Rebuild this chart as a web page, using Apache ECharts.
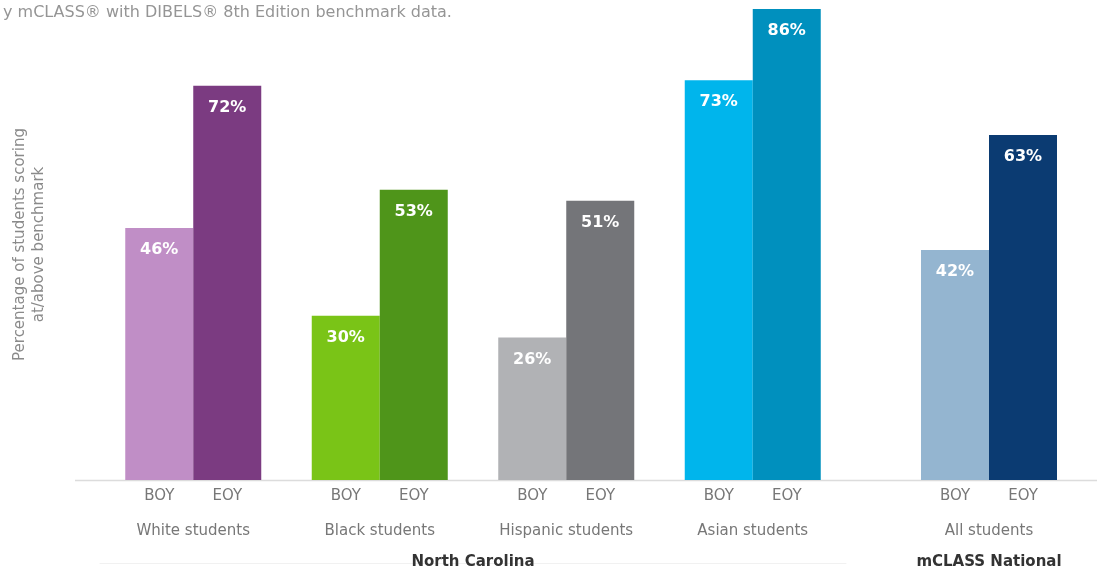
<!DOCTYPE html>
<html>
<head>
<meta charset="utf-8">
<script src="https://cdn.jsdelivr.net/npm/echarts@6/dist/echarts.min.js"></script>
<style>
html,body{margin:0;padding:0;background:#fff;}
#chart{width:1097px;height:572px;}
</style>
</head>
<body>
<div id="chart"></div>
<script>
// ---- data ----
const ncGroups = ['White students', 'Black students', 'Hispanic students', 'Asian students'];
const ncBoy = [46, 30, 26, 73];
const ncEoy = [72, 53, 51, 86];
const natGroups = ['All students'];
const natBoy = [42];
const natEoy = [63];
const ncBoyColors = ['#c08ec6', '#7ac417', '#b1b2b5', '#00b5ec'];
const ncEoyColors = ['#7b3b81', '#4f951a', '#747579', '#0090be'];
const natBoyColors = ['#94b5d0'];
const natEoyColors = ['#0b3b72'];
const regionNC = ['North Carolina'];
const regionNat = ['mCLASS National'];
const periods = ['BOY', 'EOY'];
const subtitle = 'y mCLASS\u00ae with DIBELS\u00ae 8th Edition benchmark data.';
const yName = 'Percentage of students scoring\nat/above benchmark';

const FONT = '"DejaVu Sans", "Noto Sans", sans-serif';

const chart = echarts.init(document.getElementById('chart'));

function catAxis(gridIndex, data) {
  return {
    type: 'category', gridIndex, data,
    axisLine: { show: false }, axisTick: { show: false },
    axisLabel: {
      interval: 0, margin: 8,
      formatter: v => '{b|' + periods[0] + '}{e|' + periods[1] + '}\n{g|' + v + '}',
      rich: {
        b: { width: 68, align: 'center', fontSize: 15, color: '#777777', lineHeight: 17, fontFamily: FONT },
        e: { width: 68, align: 'center', fontSize: 15, color: '#777777', lineHeight: 17, fontFamily: FONT },
        g: { fontSize: 15, color: '#777777', lineHeight: 53, fontFamily: FONT }
      }
    }
  };
}
function regionAxis(gridIndex, data, lineShow) {
  return {
    type: 'category', gridIndex, data, position: 'bottom', offset: 83,
    axisLine: { show: lineShow, lineStyle: { color: '#f1f1f1', width: 1 } },
    axisTick: { show: false },
    axisLabel: { margin: -8, fontSize: 15, fontWeight: 'bold', color: '#333333', fontFamily: FONT }
  };
}
function valAxis(gridIndex, withName) {
  return {
    type: 'value', gridIndex, min: 0, max: 86,
    show: true,
    axisLine: { show: false }, axisTick: { show: false },
    axisLabel: { show: false }, splitLine: { show: false },
    name: withName ? yName : '',
    nameLocation: 'middle', nameRotate: 90, nameGap: 51,
    nameTextStyle: { fontSize: 15, color: '#8a8a8a', fontFamily: FONT, lineHeight: 19 }
  };
}
function barSeries(xi, yi, data, colors) {
  return {
    type: 'bar', xAxisIndex: xi, yAxisIndex: yi, barWidth: 68, barGap: '0%',
    data: data.map((v, i) => ({ value: v, itemStyle: { color: colors[i] } })),
    label: {
      show: true, position: 'insideTop', distance: 14,
      formatter: p => p.value + '%',
      color: '#ffffff', fontSize: 16, fontWeight: 'bold', fontFamily: FONT
    },
    silent: true
  };
}

chart.setOption({
  backgroundColor: '#ffffff',
  animation: false,
  title: {
    text: subtitle, left: -2, top: 0,
    textStyle: { fontSize: 16, fontWeight: 'normal', color: '#959595', fontFamily: FONT }
  },
  grid: [
    { left: 100, width: 746, top: 9, height: 471 },
    { left: 896, width: 186, top: 9, height: 471 }
  ],
  xAxis: [
    catAxis(0, ncGroups),
    catAxis(1, natGroups),
    regionAxis(0, regionNC, true),
    regionAxis(1, regionNat, false)
  ],
  yAxis: [valAxis(0, true), valAxis(1, false)],
  series: [
    barSeries(0, 0, ncBoy, ncBoyColors),
    barSeries(0, 0, ncEoy, ncEoyColors),
    barSeries(1, 1, natBoy, natBoyColors),
    barSeries(1, 1, natEoy, natEoyColors)
  ],
  graphic: [{
    type: 'line', z: 0,
    shape: { x1: 75, y1: 480.5, x2: 1097, y2: 480.5 },
    style: { stroke: '#dcdcdc', lineWidth: 1.5 }
  }]
});
</script>
</body>
</html>
